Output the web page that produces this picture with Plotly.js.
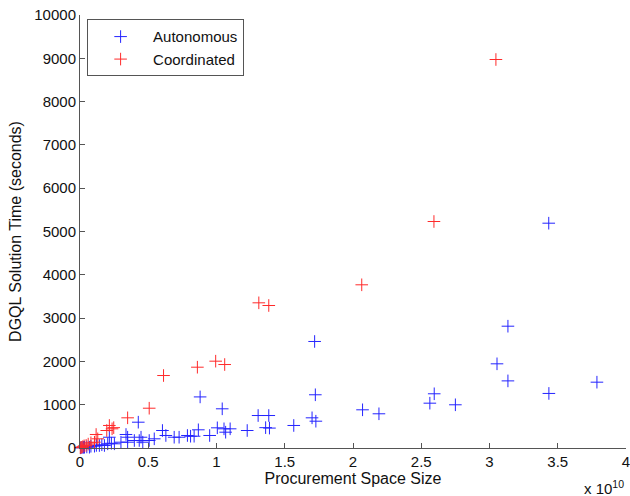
<!DOCTYPE html>
<html>
<head>
<meta charset="utf-8">
<script src="https://cdn.plot.ly/plotly-3.0.1.min.js"></script>
<style>html,body{margin:0;padding:0;background:#fff;}#chart{width:630px;height:496px;}</style>
</head>
<body>
<div id="chart"></div>
<script>
// Procurement space size in units of 1e10
const autoX = [0.005, 0.015, 0.025, 0.033, 0.05, 0.069, 0.08, 0.106, 0.12, 0.142, 0.16, 0.179, 0.203, 0.215, 0.23, 0.252, 0.30, 0.337, 0.349, 0.349, 0.398, 0.427, 0.434, 0.447, 0.46, 0.507, 0.544, 0.604, 0.629, 0.69, 0.726, 0.787, 0.81, 0.836, 0.867, 0.88, 0.95, 1.006, 1.042, 1.055, 1.067, 1.10, 1.225, 1.305, 1.383, 1.36, 1.388, 1.566, 1.70, 1.728, 1.724, 1.719, 2.07, 2.19, 2.563, 2.595, 2.75, 3.055, 3.135, 3.135, 3.435, 3.434, 3.787];
const autoY = [5, 10, 15, 18, 25, 18, 40, 42, 60, 58, 75, 58, 97, 249, 110, 97, 134, 312, 249, 134, 173, 596, 173, 249, 134, 173, 212, 404, 289, 249, 249, 289, 272, 272, 420, 1180, 289, 466, 905, 443, 365, 443, 404, 750, 750, 470, 460, 520, 697, 619, 1229, 2460, 882, 790, 1035, 1252, 998, 1944, 2813, 1550, 1260, 5192, 1520];
const coordX = [0.002, 0.01, 0.02, 0.03, 0.045, 0.06, 0.08, 0.106, 0.118, 0.13, 0.196, 0.215, 0.235, 0.247, 0.349, 0.507, 0.612, 0.86, 0.994, 1.06, 1.31, 1.383, 2.064, 2.593, 3.047];
const coordY = [5, 15, 30, 50, 60, 90, 120, 134, 312, 212, 404, 520, 443, 470, 697, 919, 1674, 1866, 2005, 1928, 3353, 3291, 3769, 5231, 8972];
const seriesNames = ["Autonomous", "Coordinated"];
const xTicks = [0, 0.5, 1, 1.5, 2, 2.5, 3, 3.5, 4];
const yTicks = [0, 1000, 2000, 3000, 4000, 5000, 6000, 7000, 8000, 9000, 10000];

const FONT = "Liberation Sans, Arial, Helvetica, sans-serif";
const mk = (c) => ({symbol: "cross-thin", size: 9, line: {color: c, width: 1}, color: c, opacity: 1});

const data = [
  {x: autoX, y: autoY, name: seriesNames[0], type: "scatter", mode: "markers", marker: mk("#2424ff"), cliponaxis: false},
  {x: coordX, y: coordY, name: seriesNames[1], type: "scatter", mode: "markers", marker: mk("#ff2a2a"), cliponaxis: false}
];

const axisCommon = {
  showline: true, linecolor: "#555", linewidth: 1,
  ticks: "inside", ticklen: 5, tickcolor: "#555", tickwidth: 1,
  showgrid: false, zeroline: false, mirror: false,
  ticklabeloverflow: "allow",
  tickfont: {family: FONT, size: 15, color: "#111"}
};

const layout = {
  width: 630, height: 496,
  margin: {l: 80, r: 4, t: 15, b: 48},
  paper_bgcolor: "#fff", plot_bgcolor: "#fff",
  showlegend: true,
  hovermode: false,
  font: {family: FONT, size: 15, color: "#111"},
  xaxis: Object.assign({}, axisCommon, {
    range: [0, 4], tickmode: "array", tickvals: xTicks, ticktext: xTicks.map(String),
    title: {text: "Procurement Space Size", font: {family: FONT, size: 16, color: "#111"}, standoff: 3}
  }),
  yaxis: Object.assign({}, axisCommon, {
    range: [0, 10000], tickmode: "array", tickvals: yTicks, ticktext: yTicks.map(String),
    title: {text: "DGQL Solution Time (seconds)", font: {family: FONT, size: 16, color: "#111"}, standoff: 8}
  }),
  legend: {
    x: 0.013, y: 0.99, xanchor: "left", yanchor: "top",
    bgcolor: "#fff", bordercolor: "#555", borderwidth: 1,
    font: {family: FONT, size: 15, color: "#111"},
    itemwidth: 55, tracegroupgap: 0
  },
  annotations: [{
    xref: "paper", yref: "paper", x: 1, y: 0, xanchor: "right", yanchor: "top",
    yshift: -28, text: "x 10<sup>10</sup>", showarrow: false,
    font: {family: FONT, size: 15, color: "#111"}
  }]
};

Plotly.newPlot("chart", data, layout, {displayModeBar: false, staticPlot: true});
</script>
</body>
</html>
